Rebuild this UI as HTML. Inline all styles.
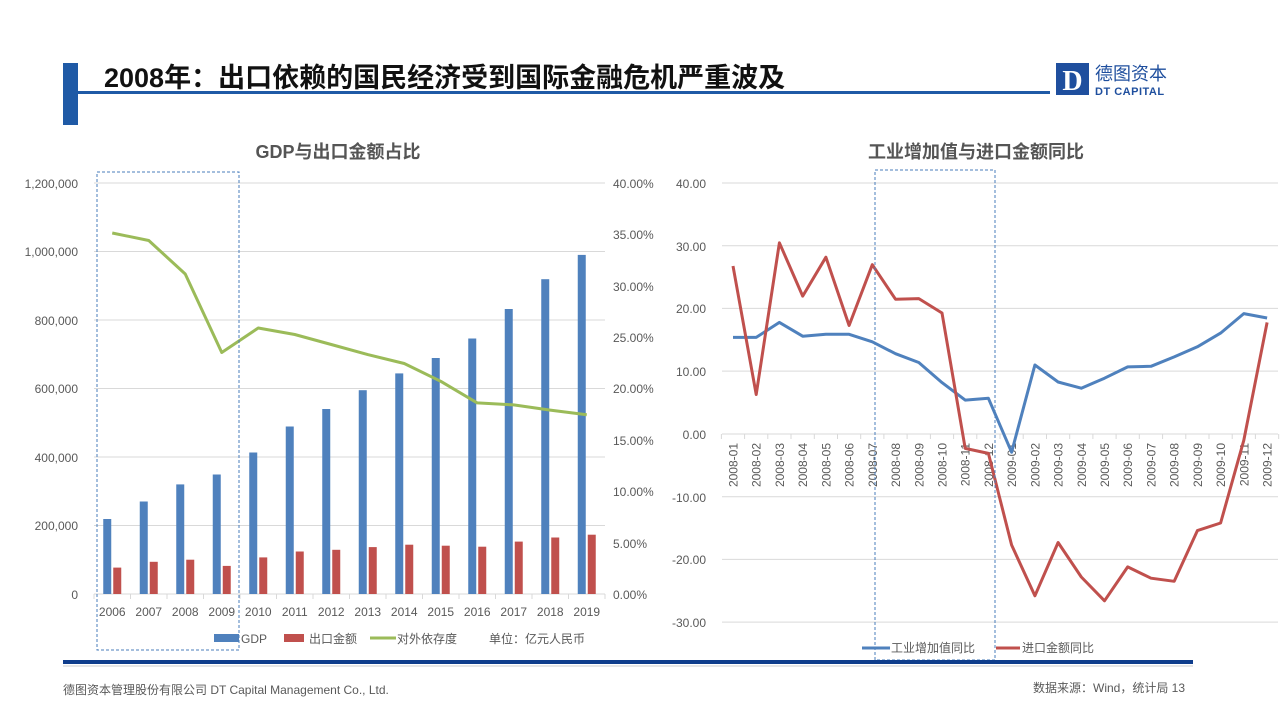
<!DOCTYPE html>
<html><head><meta charset="utf-8"><style>
body{margin:0;background:#fff;width:1280px;height:720px;overflow:hidden;font-family:"Liberation Sans","Noto Sans CJK SC",sans-serif}
</style></head><body>
<svg width="1280" height="720" viewBox="0 0 1280 720" xmlns="http://www.w3.org/2000/svg" font-family="Liberation Sans, Noto Sans CJK SC, sans-serif">
<!-- header -->
<rect x="63" y="63" width="15" height="62" fill="#1f5aa6"/>
<rect x="78" y="91" width="972" height="3" fill="#1f5aa6"/>
<text x="104" y="87" font-size="27" font-weight="bold" fill="#111">2008年：出口依赖的国民经济受到国际金融危机严重波及</text>
<rect x="1056" y="63" width="33" height="32" fill="#1f4f9e"/>
<text x="1072.5" y="90" font-size="28" font-weight="bold" fill="#fff" text-anchor="middle" font-family="Liberation Serif, serif">D</text>
<text x="1095" y="80" font-size="18" fill="#1f4f9e">德图资本</text>
<text x="1095" y="95" font-size="11" font-weight="bold" fill="#1f4f9e" letter-spacing="0.5">DT CAPITAL</text>
<!-- chart titles -->
<text x="338" y="158" font-size="18" font-weight="bold" fill="#555" text-anchor="middle">GDP与出口金额占比</text>
<text x="976" y="158" font-size="18" font-weight="bold" fill="#555" text-anchor="middle">工业增加值与进口金额同比</text>
<!-- left chart grid -->
<g stroke="#d9d9d9" stroke-width="1">
<line x1="94" y1="183" x2="605" y2="183"/><line x1="94" y1="251.5" x2="605" y2="251.5"/><line x1="94" y1="320" x2="605" y2="320"/><line x1="94" y1="388.5" x2="605" y2="388.5"/><line x1="94" y1="457" x2="605" y2="457"/><line x1="94" y1="525.5" x2="605" y2="525.5"/><line x1="94" y1="594" x2="605" y2="594"/>
<path d="M94 594v5M130.5 594v5M167 594v5M203.5 594v5M240 594v5M276.5 594v5M313 594v5M349.5 594v5M386 594v5M422.5 594v5M459 594v5M495.5 594v5M532 594v5M568.5 594v5M605 594v5"/>
</g>
<g font-size="12" fill="#595959" text-anchor="end">
<text x="78" y="188">1,200,000</text><text x="78" y="256">1,000,000</text><text x="78" y="325">800,000</text><text x="78" y="393">600,000</text><text x="78" y="462">400,000</text><text x="78" y="530">200,000</text><text x="78" y="599">0</text>
</g>
<g font-size="12" fill="#595959">
<text x="613" y="188">40.00%</text><text x="613" y="239">35.00%</text><text x="613" y="291">30.00%</text><text x="613" y="342">25.00%</text><text x="613" y="393">20.00%</text><text x="613" y="445">15.00%</text><text x="613" y="496">10.00%</text><text x="613" y="548">5.00%</text><text x="613" y="599">0.00%</text>
</g>
<g fill="#4f81bd">
<rect x="103.25" y="519" width="8" height="75"/><rect x="139.75" y="501.5" width="8" height="92.5"/><rect x="176.25" y="484.4" width="8" height="109.6"/><rect x="212.75" y="474.5" width="8" height="119.5"/><rect x="249.25" y="452.5" width="8" height="141.5"/><rect x="285.75" y="426.5" width="8" height="167.5"/><rect x="322.25" y="409" width="8" height="185"/><rect x="358.75" y="390.2" width="8" height="203.8"/><rect x="395.25" y="373.4" width="8" height="220.6"/><rect x="431.75" y="358" width="8" height="236"/><rect x="468.25" y="338.5" width="8" height="255.5"/><rect x="504.75" y="309" width="8" height="285"/><rect x="541.25" y="279.2" width="8" height="314.8"/><rect x="577.75" y="254.9" width="8" height="339.1"/>
</g>
<g fill="#c0504d">
<rect x="113.25" y="567.6" width="8" height="26.4"/><rect x="149.75" y="561.8" width="8" height="32.2"/><rect x="186.25" y="559.7" width="8" height="34.3"/><rect x="222.75" y="565.9" width="8" height="28.1"/><rect x="259.25" y="557.4" width="8" height="36.6"/><rect x="295.75" y="551.5" width="8" height="42.5"/><rect x="332.25" y="549.8" width="8" height="44.2"/><rect x="368.75" y="547.1" width="8" height="46.9"/><rect x="405.25" y="544.7" width="8" height="49.3"/><rect x="441.75" y="545.7" width="8" height="48.3"/><rect x="478.25" y="546.7" width="8" height="47.3"/><rect x="514.75" y="541.6" width="8" height="52.4"/><rect x="551.25" y="537.5" width="8" height="56.5"/><rect x="587.75" y="534.7" width="8" height="59.3"/>
</g>
<polyline fill="none" stroke="#9bbb59" stroke-width="3" stroke-linejoin="round" points="112.25,233 148.75,240.5 185.25,274 221.75,352.5 258.25,328 294.75,334.5 331.25,344.5 367.75,354.6 404.25,363.5 440.75,381.3 477.25,402.9 513.75,404.9 550.25,410.1 586.75,414.8"/>
<g font-size="12" fill="#595959" text-anchor="middle">
<text x="112.25" y="616">2006</text><text x="148.75" y="616">2007</text><text x="185.25" y="616">2008</text><text x="221.75" y="616">2009</text><text x="258.25" y="616">2010</text><text x="294.75" y="616">2011</text><text x="331.25" y="616">2012</text><text x="367.75" y="616">2013</text><text x="404.25" y="616">2014</text><text x="440.75" y="616">2015</text><text x="477.25" y="616">2016</text><text x="513.75" y="616">2017</text><text x="550.25" y="616">2018</text><text x="586.75" y="616">2019</text>
</g>
<rect x="214" y="634" width="25" height="8" fill="#4f81bd"/>
<rect x="284" y="634" width="20" height="8" fill="#c0504d"/>
<line x1="370" y1="638" x2="396" y2="638" stroke="#9bbb59" stroke-width="3"/>
<g font-size="12" fill="#595959"><text x="241" y="643">GDP</text><text x="309" y="643">出口金额</text><text x="397" y="643">对外依存度</text><text x="489" y="643">单位：亿元人民币</text></g>
<rect x="97" y="172" width="142" height="478" fill="none" stroke="#4a7ebb" stroke-dasharray="3,2"/>
<!-- right chart -->
<g stroke="#d9d9d9" stroke-width="1">
<line x1="722" y1="183" x2="1278" y2="183"/><line x1="722" y1="245.7" x2="1278" y2="245.7"/><line x1="722" y1="308.4" x2="1278" y2="308.4"/><line x1="722" y1="371.1" x2="1278" y2="371.1"/><line x1="722" y1="434" x2="1278" y2="434"/><line x1="722" y1="496.7" x2="1278" y2="496.7"/><line x1="722" y1="559.4" x2="1278" y2="559.4"/><line x1="722" y1="622.1" x2="1278" y2="622.1"/>
<path d="M721.4 434v5M744.6 434v5M767.8 434v5M791 434v5M814.3 434v5M837.5 434v5M860.7 434v5M883.9 434v5M907.1 434v5M930.4 434v5M953.6 434v5M976.8 434v5M1000 434v5M1023.2 434v5M1046.5 434v5M1069.7 434v5M1092.9 434v5M1116.1 434v5M1139.3 434v5M1162.6 434v5M1185.8 434v5M1209 434v5M1232.2 434v5M1255.4 434v5M1278.7 434v5"/>
</g>
<g font-size="12" fill="#595959" text-anchor="end">
<text x="706" y="188">40.00</text><text x="706" y="251">30.00</text><text x="706" y="313">20.00</text><text x="706" y="376">10.00</text><text x="706" y="439">0.00</text><text x="706" y="502">-10.00</text><text x="706" y="564">-20.00</text><text x="706" y="627">-30.00</text>
</g>
<g font-size="12" fill="#595959" text-anchor="end">
<text transform="translate(737.5,443) rotate(-90)">2008-01</text><text transform="translate(760.7,443) rotate(-90)">2008-02</text><text transform="translate(783.9,443) rotate(-90)">2008-03</text><text transform="translate(807.2,443) rotate(-90)">2008-04</text><text transform="translate(830.4,443) rotate(-90)">2008-05</text><text transform="translate(853.6,443) rotate(-90)">2008-06</text><text transform="translate(876.8,443) rotate(-90)">2008-07</text><text transform="translate(900,443) rotate(-90)">2008-08</text><text transform="translate(923.3,443) rotate(-90)">2008-09</text><text transform="translate(946.5,443) rotate(-90)">2008-10</text><text transform="translate(969.7,443) rotate(-90)">2008-11</text><text transform="translate(992.9,443) rotate(-90)">2008-12</text><text transform="translate(1016.1,443) rotate(-90)">2009-01</text><text transform="translate(1039.4,443) rotate(-90)">2009-02</text><text transform="translate(1062.6,443) rotate(-90)">2009-03</text><text transform="translate(1085.8,443) rotate(-90)">2009-04</text><text transform="translate(1109,443) rotate(-90)">2009-05</text><text transform="translate(1132.2,443) rotate(-90)">2009-06</text><text transform="translate(1155.5,443) rotate(-90)">2009-07</text><text transform="translate(1178.7,443) rotate(-90)">2009-08</text><text transform="translate(1201.9,443) rotate(-90)">2009-09</text><text transform="translate(1225.1,443) rotate(-90)">2009-10</text><text transform="translate(1248.3,443) rotate(-90)">2009-11</text><text transform="translate(1271.6,443) rotate(-90)">2009-12</text>
</g>
<polyline fill="none" stroke="#4f81bd" stroke-width="3" stroke-linejoin="round" points="733,337.4 756.2,337.4 779.4,322.4 802.7,336.2 825.9,334.3 849.1,334.3 872.3,341.8 895.5,353.7 918.8,362.5 942,382.6 965.2,400.1 988.4,398.3 1011.6,452.2 1034.9,365 1058.1,382 1081.3,388.2 1104.5,378.2 1127.7,366.9 1151,366.3 1174.2,356.9 1197.4,346.8 1220.6,333.1 1243.8,313.6 1267.1,318"/>
<polyline fill="none" stroke="#c0504d" stroke-width="3" stroke-linejoin="round" points="733,266 756.2,394.5 779.4,242.8 802.7,296.1 825.9,257.2 849.1,325.5 872.3,264.7 895.5,299.2 918.8,298.6 942,313 965.2,448.4 988.4,453.4 1011.6,545 1034.9,595.8 1058.1,542.5 1081.3,577 1104.5,600.8 1127.7,566.9 1151,578.2 1174.2,581.3 1197.4,530.6 1220.6,523 1243.8,440.3 1267.1,322.4"/>
<rect x="875" y="170" width="120" height="490" fill="none" stroke="#4a7ebb" stroke-dasharray="3,2"/>
<line x1="862" y1="648" x2="890" y2="648" stroke="#4f81bd" stroke-width="3"/>
<line x1="996" y1="648" x2="1020" y2="648" stroke="#c0504d" stroke-width="3"/>
<g font-size="12" fill="#595959"><text x="891" y="652">工业增加值同比</text><text x="1022" y="652">进口金额同比</text></g>
<!-- footer -->
<rect x="63" y="660" width="1130" height="4" fill="#0f3d8c"/>
<line x1="63" y1="666" x2="1193" y2="666" stroke="#ccc" stroke-width="1"/>
<text x="63" y="694" font-size="12" fill="#595959">德图资本管理股份有限公司  DT Capital Management  Co., Ltd.</text>
<text x="1033" y="692" font-size="12" fill="#595959">数据来源：Wind，统计局  13</text>
</svg>
</body></html>
